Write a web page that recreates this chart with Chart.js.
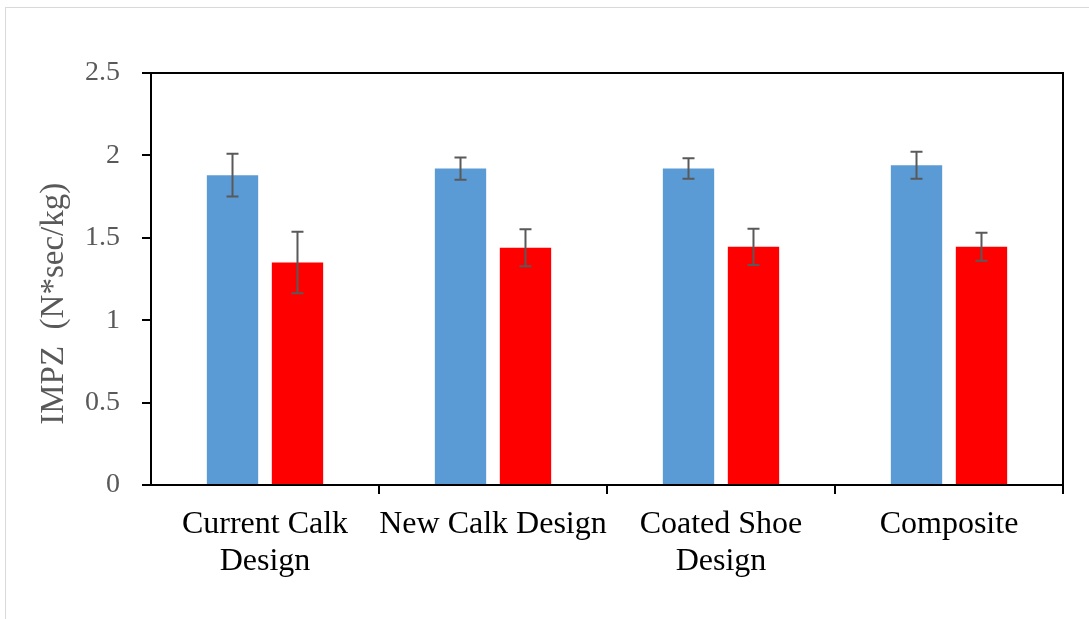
<!DOCTYPE html>
<html>
<head>
<meta charset="utf-8">
<script src="https://cdn.jsdelivr.net/npm/chart.js@4"></script>
<style>
    body { margin: 0; background: #fff; }
    #frame {
        position: absolute; left: 5px; top: 7px;
        width: 1200px; height: 700px;
        border: 1px solid #d9d9d9;
    }
    #chart { position: absolute; left: 0; top: 0; }
</style>
</head>
<body>
<div id="frame"></div>
<canvas id="chart" width="1089" height="619"></canvas>
<script>
'use strict';

// Data
const categories = [
    ['Current Calk', 'Design'],
    'New Calk Design',
    ['Coated Shoe', 'Design'],
    'Composite',
];
const blueValues = [1.88, 1.92, 1.92, 1.94];
const blueErrors = [0.13, 0.067, 0.062, 0.082];
const redValues = [1.35, 1.44, 1.445, 1.445];
const redErrors = [0.187, 0.112, 0.11, 0.085];
const yTickLabels = ['0', '0.5', '1', '1.5', '2', '2.5'];

const serif = "'Liberation Serif', 'Times New Roman', serif";
const errorsByDataset = [blueErrors, redErrors];

// Draws error bars using the y scale of the chart
const errorBarPlugin = {
    id: 'errorBars',
    afterDatasetsDraw(chart) {
        const ctx = chart.ctx;
        const yScale = chart.scales.y;
        ctx.save();
        ctx.strokeStyle = '#595959';
        ctx.lineWidth = 2;
        chart.data.datasets.forEach((ds, di) => {
            const meta = chart.getDatasetMeta(di);
            meta.data.forEach((bar, i) => {
                const v = ds.data[i];
                const e = errorsByDataset[di][i];
                const yTop = yScale.getPixelForValue(v + e);
                const yBot = yScale.getPixelForValue(v - e);
                ctx.beginPath();
                ctx.moveTo(bar.x, yTop);
                ctx.lineTo(bar.x, yBot);
                ctx.moveTo(bar.x - 6, yTop);
                ctx.lineTo(bar.x + 6, yTop);
                ctx.moveTo(bar.x - 6, yBot);
                ctx.lineTo(bar.x + 6, yBot);
                ctx.stroke();
            });
        });
        ctx.restore();
    },
};

// Black box round the plot area
const plotFramePlugin = {
    id: 'plotFrame',
    afterDraw(chart) {
        const { ctx, chartArea } = chart;
        ctx.save();
        ctx.strokeStyle = '#000';
        ctx.lineWidth = 2;
        ctx.strokeRect(chartArea.left, chartArea.top,
            chartArea.right - chartArea.left, chartArea.bottom - chartArea.top);
        ctx.restore();
    },
};

new Chart(document.getElementById('chart'), {
    type: 'bar',
    data: {
        labels: categories,
        datasets: [
            {
                data: blueValues,
                backgroundColor: '#5b9bd5',
                categoryPercentage: 0.57,
                barPercentage: 0.79,
            },
            {
                data: redValues,
                backgroundColor: '#ff0000',
                categoryPercentage: 0.57,
                barPercentage: 0.79,
            },
        ],
    },
    options: {
        responsive: false,
        animation: false,
        layout: { padding: { top: 73, right: 26, left: 0, bottom: 0 } },
        plugins: {
            legend: { display: false },
            tooltip: { enabled: false },
        },
        scales: {
            x: {
                grid: {
                    drawOnChartArea: false,
                    tickLength: 9,
                    lineWidth: 2,
                    color: (c) =>
                        c.index === 0 || c.index === categories.length
                            ? 'rgba(0,0,0,0)'
                            : '#000',
                },
                border: { color: '#000', width: 2 },
                ticks: {
                    font: { family: serif, size: 32, lineHeight: 1.16 },
                    color: '#000',
                    padding: 12,
                    maxRotation: 0,
                    autoSkip: false,
                },
                afterFit: (scale) => {
                    scale.height = 134;
                },
            },
            y: {
                min: 0,
                max: 2.5,
                grid: {
                    drawOnChartArea: false,
                    tickLength: 9,
                    lineWidth: 2,
                    color: '#000',
                },
                border: { color: '#000', width: 2 },
                ticks: {
                    stepSize: 0.5,
                    font: { family: serif, size: 28 },
                    color: '#595959',
                    padding: 22,
                    callback: (value, index) => yTickLabels[index],
                },
                title: {
                    display: true,
                    // trailing spaces push the text down a little, as in the original
                    text: 'IMPZ  (N*sec/kg)      ',
                    font: { family: serif, size: 33, lineHeight: 1.2 },
                    color: '#595959',
                    padding: { top: 35, bottom: 0 },
                },
                afterFit: (scale) => {
                    scale.width = 151;
                },
            },
        },
    },
    plugins: [errorBarPlugin, plotFramePlugin],
});
</script>
</body>
</html>
